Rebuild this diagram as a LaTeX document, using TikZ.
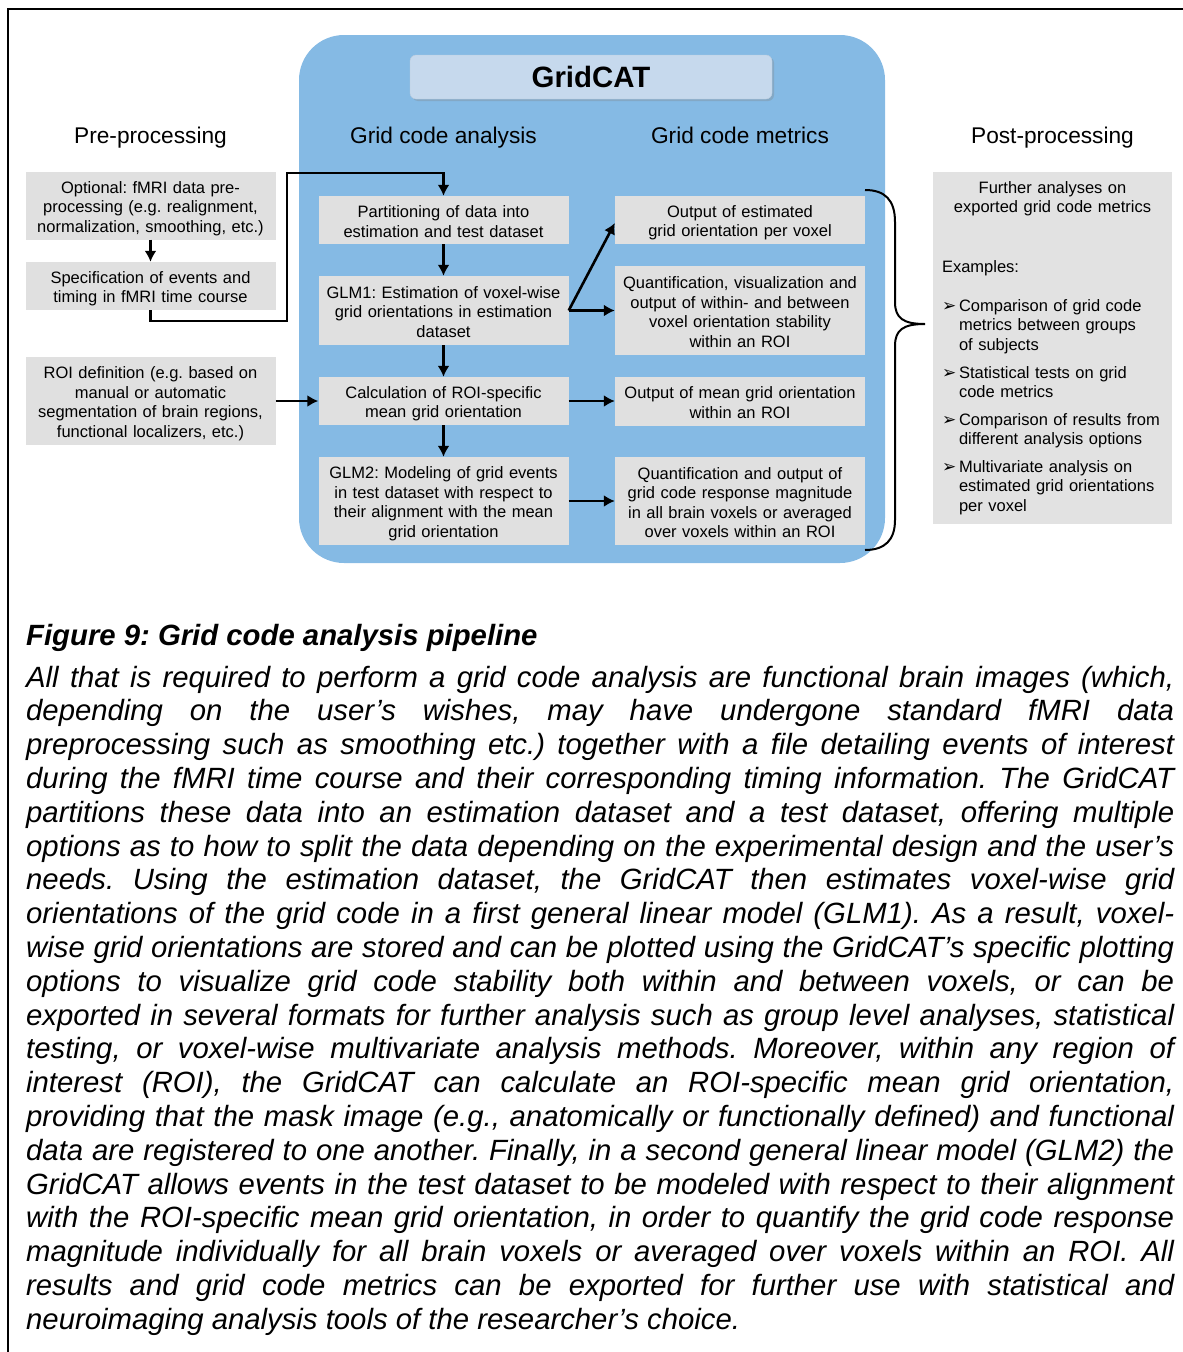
\documentclass[tikz,border=0pt]{standalone}
\usepackage{fontspec}
\setmainfont{Liberation Sans}
\newfontfamily\dingfont{DejaVu Sans}
\usepackage{xcolor}
\usepackage{tikz}
\usetikzlibrary{positioning, arrows.meta, shadows}
\tikzstyle{line} = [draw, -{Latex[length=11pt, width=12pt]}, line width=2.6pt]
\definecolor{panelblue}{HTML}{85BAE4}
\definecolor{boxgray}{HTML}{E0E0E0}
\definecolor{titleblue}{HTML}{C6D9ED}
\tikzstyle{block} = [rectangle, fill=boxgray, text width=240pt, align=center,
    inner xsep=5pt, inner ysep=2pt, font=\fontsize{16.5}{19.5}\selectfont,
    execute at begin node={\rule{0pt}{17.5pt}}, execute at end node={\rule[-3pt]{0pt}{3pt}}]
\tikzstyle{heading} = [anchor=base, font=\fontsize{22.7}{26}\selectfont]
\tikzstyle{panel} = [rectangle, fill=panelblue, rounded corners=45pt,
    minimum width=586pt, minimum height=528pt]
\tikzstyle{titlebox} = [rectangle, fill=titleblue, draw=titleblue!85!gray, rounded corners=6pt,
    minimum width=362pt, minimum height=44pt, font=\bfseries\fontsize{29.4}{32}\selectfont,
    drop shadow={shadow xshift=2pt, shadow yshift=-2pt, opacity=0.3}]
\tikzstyle{postbox} = [rectangle, fill=boxgray!95!white, text width=221pt, inner xsep=9pt,
    inner ysep=9pt, anchor=north, font=\fontsize{16.5}{19.5}\selectfont]
\tikzstyle{captitle} = [inner sep=0pt, anchor=base west, font=\bfseries\itshape\fontsize{29.3}{33.8}\selectfont]
\tikzstyle{captext} = [inner sep=0pt, anchor=base west, text width=1148pt, align=justify,
    font=\itshape\fontsize{29.3}{33.8}\selectfont]
\newcommand{\postbullet}{\makebox[17pt][l]{\dingfont\fontsize{17}{17}\selectfont ➢}}
\hyphenpenalty=10000
\frenchspacing

\begin{document}
\begin{tikzpicture}[x=1pt, y=1pt, node distance=80pt, auto]
      \useasboundingbox (0,0) rectangle (1183,-1352);
      \draw [line width=2pt] (8,-1360) -- (8,-9) -- (1190,-9);
      % GridCAT panel
      \node [panel] (gridcat) at (592,-299) {};
      \node [titlebox] (title) at (591,-77) {GridCAT};
      % Column headings
      \node [heading] (hpre) at (150.5,-143) {Pre-processing};
      \node [heading] (hana) at (443.5,-143) {Grid code analysis};
      \node [heading] (hmet) at (740,-143) {Grid code metrics};
      \node [heading] (hpost) at (1052.5,-143) {Post-processing};
      % Place pre-processing nodes
      \node [block, minimum height=68pt] (opt) at (150.5,-205.5) {Optional: fMRI data pre-\\processing (e.g. realignment,\\normalization, smoothing, etc.)};
      \node [block, below of=opt, node distance=80.5pt, minimum height=48pt] (spec) {Specification of events and\\timing in fMRI time course};
      \node [block, below of=spec, node distance=115pt, minimum height=88pt] (roi) {ROI definition (e.g. based on\\manual or automatic\\segmentation of brain regions,\\functional localizers, etc.)};
      % Place analysis nodes
      \node [block, minimum height=48pt] (part) at (443.5,-220) {Partitioning of data into\\estimation and test dataset};
      \node [block, below of=part, node distance=90.5pt, minimum height=69pt] (glm1) {GLM1: Estimation of voxel-wise\\grid orientations in estimation\\dataset};
      \node [block, below of=glm1, node distance=90.5pt, minimum height=48pt] (calc) {Calculation of ROI-specific\\mean grid orientation};
      \node [block, below of=calc, node distance=100pt, minimum height=88pt] (glm2) {GLM2: Modeling of grid events\\in test dataset with respect to\\their alignment with the mean\\grid orientation};
      % Place metrics nodes
      \node [block, right of=part, node distance=296.5pt, minimum height=48pt] (outest) {Output of estimated\\grid orientation per voxel};
      \node [block, right of=glm1, node distance=296.5pt, minimum height=89pt] (quant) {Quantification, visualization and\\output of within- and between\\voxel orientation stability\\within an ROI};
      \node [block, right of=calc, node distance=296.5pt, minimum height=49pt] (outmean) {Output of mean grid orientation\\within an ROI};
      \node [block, right of=glm2, node distance=296.5pt, minimum height=88pt] (quant2) {Quantification and output of\\grid code response magnitude\\in all brain voxels or averaged\\over voxels within an ROI};
      % Place post-processing node
      \node [postbox] (post) at (1052.5,-172) {\parindent=0pt
        {\centering Further analyses on\\exported grid code metrics\par}
        \vspace{40pt}
        Examples:\par
        \vspace{19.5pt}
        \hangindent=17pt\hangafter=1\postbullet Comparison of grid code\newline metrics between groups\newline of subjects\par
        \vspace{8.5pt}
        \hangindent=17pt\hangafter=1\postbullet Statistical tests on grid\newline code metrics\par
        \vspace{8pt}
        \hangindent=17pt\hangafter=1\postbullet Comparison of results from\newline different analysis options\par
        \vspace{8pt}
        \hangindent=17pt\hangafter=1\postbullet Multivariate analysis on\newline estimated grid orientations\newline per voxel\par};
      % Draw edges
      \coordinate (lowbend) at (287,-321);
      \coordinate (highbend) at (287,-173);
      \path [line] (opt) -- (spec);
      \path [line] (spec.south) |- (lowbend) -- (highbend) -| (part.north);
      \path [line] (roi.east) -- (calc.west);
      \path [line] (part) -- (glm1);
      \path [line] (glm1) -- (calc);
      \path [line] (calc) -- (glm2);
      \path [line] (glm1.east) -- ([yshift=-3pt]outest.west);
      \path [line] (glm1.east) -- (quant.west);
      \path [line] (calc.east) -- (outmean.west);
      \path [line] (glm2.east) -- (quant2.west);
      % Brace
      \draw [line width=2pt] (865,-190) .. controls (885,-190) and (895,-200) .. (895,-222) -- (895,-302)
        .. controls (895,-318) and (903,-324) .. (925,-324)
        .. controls (903,-324) and (895,-330) .. (895,-346) -- (895,-520)
        .. controls (895,-540) and (885,-550) .. (865,-550);
      % Caption
      \node [captitle] (figtitle) at (26,-645) {Figure 9: Grid code analysis pipeline};
      \node [captext] (figtext) at (26,-687) {All that is required to perform a grid code analysis are functional brain images (which,\linebreak
depending on the user’s wishes, may have undergone standard fMRI data\linebreak
preprocessing such as smoothing etc.) together with a file detailing events of interest\linebreak
during the fMRI time course and their corresponding timing information. The GridCAT\linebreak
partitions these data into an estimation dataset and a test dataset, offering multiple\linebreak
options as to how to split the data depending on the experimental design and the user’s\linebreak
needs. Using the estimation dataset, the GridCAT then estimates voxel-wise grid\linebreak
orientations of the grid code in a first general linear model (GLM1). As a result, voxel-\linebreak
wise grid orientations are stored and can be plotted using the GridCAT’s specific plotting\linebreak
options to visualize grid code stability both within and between voxels, or can be\linebreak
exported in several formats for further analysis such as group level analyses, statistical\linebreak
testing, or voxel-wise multivariate analysis methods. Moreover, within any region of\linebreak
interest (ROI), the GridCAT can calculate an ROI-specific mean grid orientation,\linebreak
providing that the mask image (e.g., anatomically or functionally defined) and functional\linebreak
data are registered to one another. Finally, in a second general linear model (GLM2) the\linebreak
GridCAT allows events in the test dataset to be modeled with respect to their alignment\linebreak
with the ROI-specific mean grid orientation, in order to quantify the grid code response\linebreak
magnitude individually for all brain voxels or averaged over voxels within an ROI. All\linebreak
results and grid code metrics can be exported for further use with statistical and\linebreak
neuroimaging analysis tools of the researcher’s choice.};
  \end{tikzpicture}
\end{document}
